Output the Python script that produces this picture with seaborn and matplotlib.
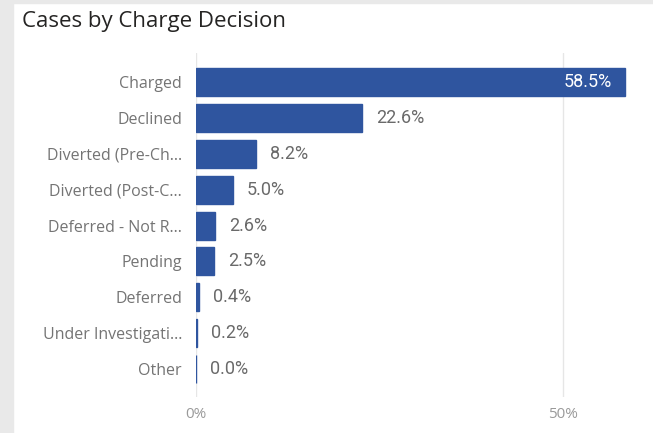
import matplotlib
matplotlib.use("Agg")
import matplotlib.pyplot as plt
import pandas as pd
import seaborn as sns
from matplotlib.patches import Rectangle

decisions = [
    "Charged", "Declined", "Diverted (Pre-Ch…", "Diverted (Post-C…",
    "Deferred - Not R…", "Pending", "Deferred", "Under Investigati…", "Other",
]
share_pct = [58.5, 22.6, 8.2, 5.0, 2.6, 2.5, 0.4, 0.2, 0.0]
x_ticks = [0, 50]
x_tick_labels = ["0%", "50%"]

BAR = "#2F559F"

sns.set_theme(style="white")
plt.rcParams["font.family"] = ["Open Sans", "DejaVu Sans"]

df = pd.DataFrame({"decision": decisions, "share": share_pct})

fig = plt.figure(figsize=(6.53, 4.33), dpi=100)
# grey canvas strip around the card
fig.patches.append(Rectangle((0, 0), 13 / 653, 1, transform=fig.transFigure,
                             color="#E9E9E9", zorder=-1))
fig.patches.append(Rectangle((0, 1 - 3 / 433), 1, 3 / 433, transform=fig.transFigure,
                             color="#E9E9E9", zorder=-1))

ax = fig.add_axes([196 / 653, 1 - 397 / 433, 1 - 196 / 653, 344 / 433])
sns.barplot(data=df, x="share", y="decision", orient="h", color=BAR,
            saturation=1, width=0.78, edgecolor=BAR, linewidth=1.0, ax=ax)

ax.set_xlim(0, 62.3)
ax.set_ylim(8.78, -0.81)
ax.set_xticks(x_ticks)
ax.set_xticklabels(x_tick_labels)
ax.set_xlabel("")
ax.set_ylabel("")
for s in ax.spines.values():
    s.set_visible(False)
for xv in x_ticks:
    ax.axvline(xv, color="#E6E6E6", lw=1, zorder=0)

ax.tick_params(axis="y", length=0, pad=10, labelsize=11.5, labelcolor="#747474")
ax.tick_params(axis="x", length=0, pad=7, labelsize=11, labelcolor="#9A9A9A")

for i, v in enumerate(share_pct):
    label = f"{v:.1f}%"
    if v > 40:
        ax.text(v - 1.8, i, label, ha="right", va="center", color="white",
                fontsize=13, family=["Roboto", "DejaVu Sans"])
    else:
        ax.text(v + 1.9, i, label, ha="left", va="center", color="#6A6A6A",
                fontsize=13, family=["Roboto", "DejaVu Sans"])

fig.text(22 / 653, 1 - 21 / 433, "Cases by Charge Decision", ha="left", va="center",
         fontsize=16, color="#252423")

fig.savefig("out.png", dpi=100)
